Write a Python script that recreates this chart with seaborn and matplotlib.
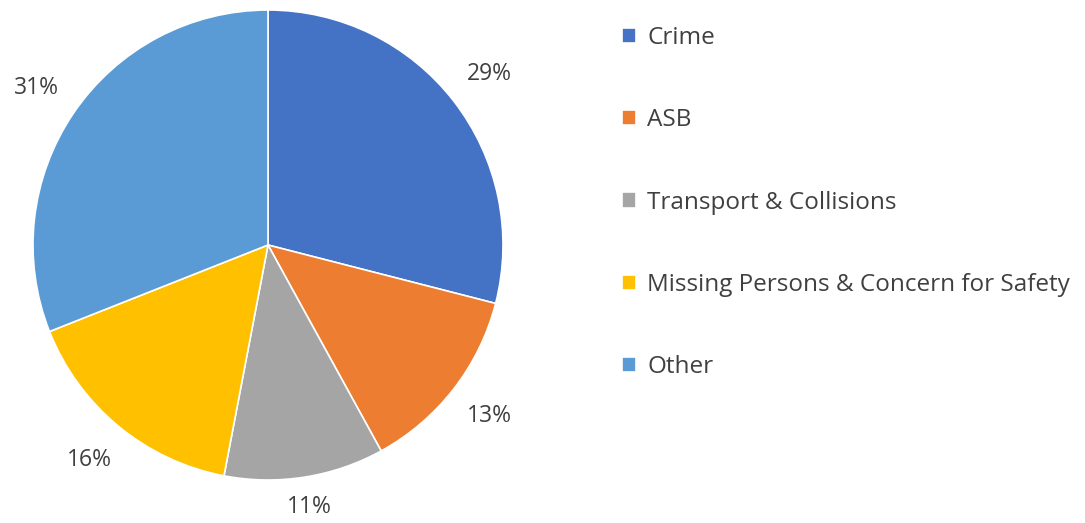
import seaborn as sns
import matplotlib.pyplot as plt

sns.set_theme(style="white")
plt.rcParams['font.family'] = ['Open Sans', 'DejaVu Sans']

categories = ['Crime', 'ASB', 'Transport & Collisions',
              'Missing Persons & Concern for Safety', 'Other']
shares = [29, 13, 11, 16, 31]
colors = sns.color_palette(['#4472C4', '#ED7D31', '#A5A5A5', '#FFC000', '#5B9BD5'])

fig = plt.figure(figsize=(10.85, 5.23), dpi=100)
W, H = 1085, 523
cx, cy, r = 268, 245, 235
ax = fig.add_axes([(cx - r) / W, (H - cy - r) / H, 2 * r / W, 2 * r / H])

wedges, texts, autotexts = ax.pie(
    shares, colors=colors, startangle=90, counterclock=False,
    autopct='%d%%', pctdistance=1.19,
    wedgeprops=dict(edgecolor='white', linewidth=1.2),
    textprops=dict(fontsize=16.5, color='#404040'))
# the bottom label sits a bit closer to the pie
x, y = autotexts[2].get_position()
autotexts[2].set_position((x * 1.13 / 1.19, y * 1.13 / 1.19))
ax.set_xlim(-1, 1)
ax.set_ylim(-1, 1)
ax.set_aspect('equal')

fig.legend(wedges, categories, loc='upper left',
           bbox_to_anchor=(600 / W, 1 - 4 / H), frameon=False,
           fontsize=17.5, labelcolor='#404040',
           handlelength=0.6, handleheight=0.6, handletextpad=0.45,
           labelspacing=2.4)

fig.savefig('out.png', dpi=100)
